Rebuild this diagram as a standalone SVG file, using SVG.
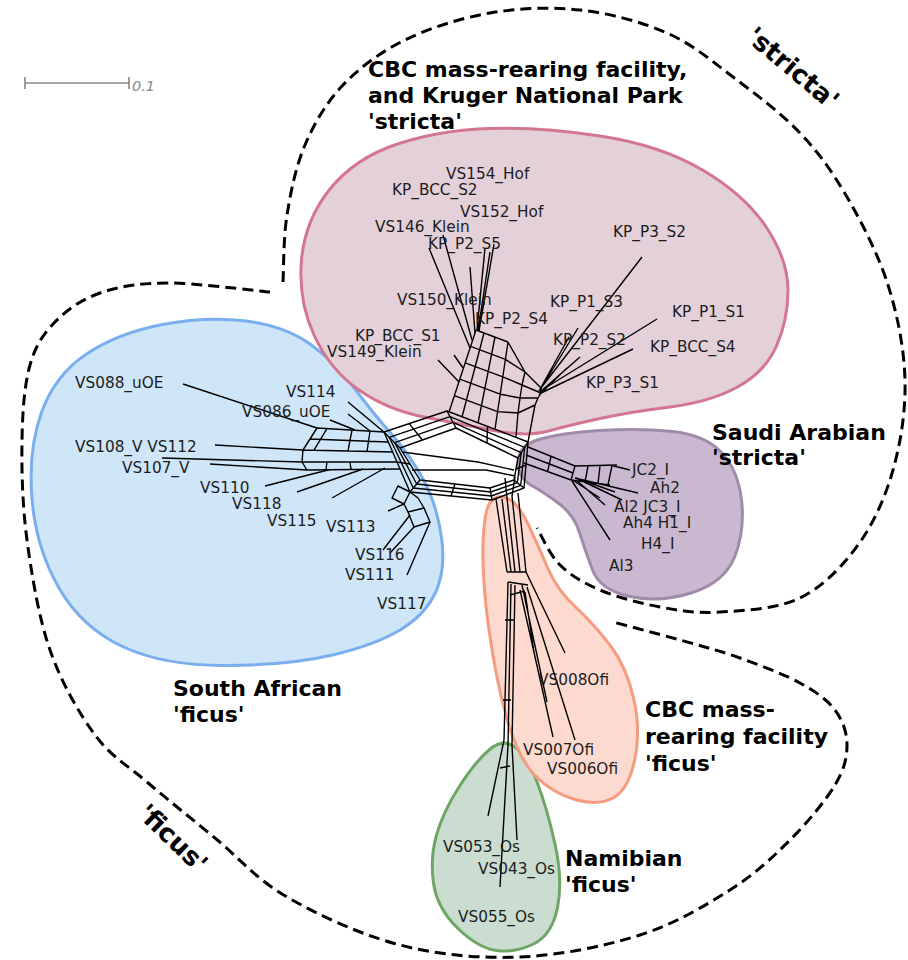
<svg xmlns="http://www.w3.org/2000/svg" width="908" height="960" viewBox="0 0 908 960">
<style>
.lbl{font-family:"DejaVu Sans","Liberation Sans",sans-serif;font-size:15.3px;fill:#1c1c1c}
.ttl{font-family:"DejaVu Sans","Liberation Sans",sans-serif;font-size:22px;font-weight:bold;fill:#000}
.big{font-family:"DejaVu Sans","Liberation Sans",sans-serif;font-size:26px;font-weight:bold;fill:#000}
.dash{fill:none;stroke:#000;stroke-width:3;stroke-dasharray:11 6}
.reg{stroke-width:3}
.net polygon,.net path{fill:none;stroke:#000;stroke-width:1.4;stroke-linejoin:round}
</style>
<rect width="908" height="960" fill="#fff"/>

<g id="scale-bar" stroke="#888" stroke-width="1.6" fill="none">
<path d="M25,83H129M25,77V89M129,77V89"/>
<text x="132" y="91" stroke="none" fill="#888" font-family="DejaVu Sans,sans-serif" font-size="14.5" font-style="italic">0.1</text>
</g>

<g id="outline-stricta">
<path class="dash" d="M283,282 C283.7,270.8 283.3,237.8 287,215 C290.7,192.2 295.7,166.7 305,145 C314.3,123.3 326.3,102.5 343,85 C359.7,67.5 380.5,52 405,40 C429.5,28 460.8,18 490,13 C519.2,8 550.5,6.7 580,10 C609.5,13.3 641.5,21.8 667,33 C692.5,44.2 710.8,60.3 733,77 C755.2,93.7 781,113 800,133 C819,153 832.3,171.7 847,197 C861.7,222.3 878.3,254.5 888,285 C897.7,315.5 904.2,349.2 905,380 C905.8,410.8 900.8,442.5 893,470 C885.2,497.5 873.5,523.7 858,545 C842.5,566.3 823,586.8 800,598 C777,609.2 743.3,610.5 720,612 C696.7,613.5 680,610.7 660,607 C640,603.3 616.7,597 600,590 C583.3,583 570.5,575.3 560,565 C549.5,554.7 540.8,534.2 537,528"/>
<text class="big" transform="translate(793,68) rotate(40)" text-anchor="middle" dy="0.35em">'stricta'</text>
</g>

<g id="outline-ficus">
<path class="dash" d="M270,292 C252.8,290.5 195.3,282.8 167,283 C138.7,283.2 118.7,286.5 100,293 C81.3,299.5 66.7,310 55,322 C43.3,334 35.5,345.3 30,365 C24.5,384.7 22.5,410.8 22,440 C21.5,469.2 22.3,505 27,540 C31.7,575 38.7,617.5 50,650 C61.3,682.5 78.8,713 95,735 C111.2,757 127,764.8 147,782 C167,799.2 191.7,818.8 215,838 C238.3,857.2 256.2,879.2 287,897 C317.8,914.8 361.2,935 400,945 C438.8,955 480,958.7 520,957 C560,955.3 605,946.2 640,935 C675,923.8 705,905.8 730,890 C755,874.2 772.5,857.5 790,840 C807.5,822.5 825.5,800.8 835,785 C844.5,769.2 847,757.5 847,745 C847,732.5 842.8,720.3 835,710 C827.2,699.7 815.8,691.7 800,683 C784.2,674.3 760,665.2 740,658 C720,650.8 701.2,646 680,640 C658.8,634 624.2,625 613,622"/>
<text class="big" transform="translate(173,838) rotate(44)" text-anchor="middle" dy="0.35em">'ficus'</text>
</g>

<g id="region-south-african-ficus">
<path class="reg" fill="#cfe6f9" stroke="#7aaeee" d="M162.5,324.5 Q207,316 246,321 Q285,326 310,344 Q335,362 353.5,387 Q372,412 391,433.5 Q410,455 423.5,480 Q437,505 441.5,537.5 Q446,570 435.5,592.5 Q425,615 400,630 Q375,645 332.5,655 Q290,665 227.5,665.5 Q165,666 123.5,647 Q82,628 59,588 Q36,548 32,499 Q28,450 41.5,412.5 Q55,375 86.5,354 Q118,333 162.5,324.5 Z"/>
<text class="ttl" x="173" y="696">South African</text>
<text class="ttl" x="173" y="722">'ficus'</text>
</g>

<g id="region-cbc-kruger-stricta">
<path class="reg" fill="#e4d0d8" stroke="#d4768f" d="M490,128.5 Q540,127 600,136 Q660,145 702.5,170 Q745,195 766.5,227.5 Q788,260 788,290 Q788,320 776.5,346 Q765,372 737.5,387 Q710,402 670,407 Q630,412 600,418.5 Q570,425 548.5,431 Q527,437 493.5,430.5 Q460,424 424,417 Q388,410 359,390 Q330,370 314,335 Q298,300 301.5,260 Q305,220 330,189 Q355,158 397.5,144 Q440,130 490,128.5 Z"/>
<text class="ttl" x="368" y="77">CBC mass-rearing facility,</text>
<text class="ttl" x="368" y="103">and Kruger National Park</text>
<text class="ttl" x="368" y="129">'stricta'</text>
</g>

<g id="region-saudi-stricta">
<path class="reg" fill="#c9b8cf" stroke="#a08ca8" d="M518,462 Q518,446 539,439.5 Q560,433 600,430.5 Q640,428 672.5,431.5 Q705,435 721.5,452.5 Q738,470 741.5,500 Q745,530 735,556 Q725,582 692.5,592.5 Q660,603 630,596.5 Q600,590 592.5,570 Q585,550 579.5,532.5 Q574,515 559.5,504 Q545,493 531.5,485.5 Q518,478 518,462 Z"/>
<text class="ttl" x="712" y="440">Saudi Arabian</text>
<text class="ttl" x="712" y="465">'stricta'</text>
</g>

<g id="region-namibian-ficus">
<path class="reg" fill="#cbdcd1" stroke="#6ea765" d="M489,750 Q503,738 515,747 Q527,756 537,782 Q547,808 555,844 Q563,880 557.5,907.5 Q552,935 533.5,944 Q515,953 496.5,950.5 Q478,948 457.5,928 Q437,908 433.5,883 Q430,858 436.5,835 Q443,812 459,787 Q475,762 489,750 Z"/>
<text class="ttl" x="565" y="866">Namibian</text>
<text class="ttl" x="565" y="892">'ficus'</text>
</g>

<g id="region-cbc-ficus">
<path class="reg" fill="#fcdad0" stroke="#f59b80" d="M490.5,502 Q497,494 507.5,498.5 Q518,503 528,524 Q538,545 547.5,567.5 Q557,590 576,607.5 Q595,625 611,646.5 Q627,668 634,700 Q641,732 634.5,761 Q628,790 613,798 Q598,806 575,799.5 Q552,793 535,775.5 Q518,758 507,719 Q496,680 489,630 Q482,580 483,545 Q484,510 490.5,502 Z"/>
<text class="ttl" x="645" y="717">CBC mass-</text>
<text class="ttl" x="645" y="744">rearing facility</text>
<text class="ttl" x="645" y="771">'ficus'</text>
</g>

<g id="connectors" class="net">
<polygon points="384,432 447,411 528,442 524,488 492,500 410,492"/>
<polygon points="389.3,437.3 450,416.7 524.7,447.3 520.7,485.3 491.3,496 413.3,488"/>
<polygon points="394.7,442.7 453,422.3 521.3,452.7 517.3,482.7 490.7,492 416.7,484"/>
<polygon points="400,448 456,428 518,458 514,480 490,488 420,480"/>
<path d="M384,432L400,448M447,411L456,428M528,442L518,458M524,488L514,480M492,500L490,488M410,492L420,480M409.2,423.6L422.4,440M487.5,426.5L487,443M397,462L410,464M451,496L455,484M526,465L516,469M402,452L478,462L514,470M412,470L486,470L515,476M505,478L507,498M515,477L512,496"/>
<path d="M476,330L449,412M484,333L462,417M495,337L478,423M508,342L495,429M476,330L508,342M470.6,346.4L505.4,359.4L525,372L541,388M465.2,362.8L502.8,376.8L522,385L541,393M459.8,379.2L500.2,394.2L520,398L538,398M454.4,395.6L497.6,411.6L518,413L535,405M508,342L525,372L522,385L520,398L518,413L516,437M541,388L541,393L538,398L535,405L528,442"/>
<path d="M541,388L642,257M542,390L657,319M541,393L633,349M540,392L580,357M540,390L578,328M539,391L569,337M539,395L567,368"/>
<path d="M429,248L470,348M443,235L472,340M470,267L475,333M485,248L477,330M494,244L479,331M490,252L478,331M438,360L459,382M454,355L463,368"/>
<path d="M317,428L384,432M310,439L388,442M303,450L393,452M317,428L303,450M327,428.6L314,450.2M352,430L348,451M370,431L367,451.5M302,462L397,462M307,470L400,469M302,462L307,470M327,462L326,469.5M350,462L351,469.4M303,450L302,462"/>
<path d="M183,384L317,428M348,402L384,432M348,414L370,431M330,420L355,430M215,445L303,450M162,458L302,462M210,464L307,470M265,486L330,469.5M297,492L363,469M332,498L385,468"/>
<path d="M410,492L398,486L392,498L404,504ZM388,511L404,504M404,504L408,512M410,492L418,498L424,508"/>
<polygon points="408,512 424,508 430,522 414,527"/>
<path d="M383,550L410,515M390,553L414,527M407,575L430,522"/>
<path d="M528,447L575,466M526,455L573,473M524,463L571,480M575,466L571,480M551,456.5L547.5,472M575,466L617,465M571,480L610,485M588,466L585,482M600,466L598,483.5M612,465.5L608,485M612,465.5L630,470M575,478L638,493M578,479L622,500M576,480L605,505M574,481L600,498M572,481L610,540M576,478L615,492"/>
<path d="M496,499L507,572M502,499L511,572M507,498L515,572M512,496L520,572M518,493L526,572M507,572L526,572M508,582L528,585M510,595L525,591"/>
<path d="M526,572L565,653M522,585L547,702M520,590L553,737M527,587L575,740M525,592L534,652"/>
<path d="M508,582L504,740M511,584L508,745M515,585L512,745M505,620L514,620M503,700L511,700M504,740L488,816M508,745L500,887M512,745L517,840M500,768L510,766"/>
</g>

<g id="labels-stricta-cbc" class="lbl">
<text x="446" y="179">VS154_Hof</text>
<text x="392" y="195">KP_BCC_S2</text>
<text x="460" y="217">VS152_Hof</text>
<text x="375" y="232">VS146_Klein</text>
<text x="428" y="249">KP_P2_S5</text>
<text x="613" y="237">KP_P3_S2</text>
<text x="397" y="305">VS150_Klein</text>
<text x="550" y="307">KP_P1_S3</text>
<text x="475" y="324">KP_P2_S4</text>
<text x="672" y="317">KP_P1_S1</text>
<text x="355" y="341">KP_BCC_S1</text>
<text x="553" y="345">KP_P2_S2</text>
<text x="650" y="352">KP_BCC_S4</text>
<text x="327" y="357">VS149_Klein</text>
<text x="586" y="388">KP_P3_S1</text>
</g>
<g id="labels-south-african" class="lbl">
<text x="75" y="388">VS088_uOE</text>
<text x="286" y="397">VS114</text>
<text x="242" y="417">VS086_uOE</text>
<text x="75" y="452">VS108_V VS112</text>
<text x="122" y="473">VS107_V</text>
<text x="200" y="493">VS110</text>
<text x="232" y="509">VS118</text>
<text x="267" y="526">VS115</text>
<text x="326" y="532">VS113</text>
<text x="355" y="560">VS116</text>
<text x="345" y="580">VS111</text>
<text x="377" y="609">VS117</text>
</g>
<g id="labels-saudi" class="lbl">
<text x="632" y="475">JC2_I</text>
<text x="650" y="493">Ah2</text>
<text x="614" y="512">Al2 JC3_I</text>
<text x="623" y="528">Ah4 H1_I</text>
<text x="641" y="549">H4_I</text>
<text x="609" y="571">Al3</text>
</g>
<g id="labels-cbc-ficus" class="lbl">
<text x="538" y="685">VS008Ofi</text>
<text x="523" y="755">VS007Ofi</text>
<text x="547" y="774">VS006Ofi</text>
</g>
<g id="labels-namibian" class="lbl">
<text x="443" y="852">VS053_Os</text>
<text x="478" y="874">VS043_Os</text>
<text x="458" y="922">VS055_Os</text>
</g>
</svg>
